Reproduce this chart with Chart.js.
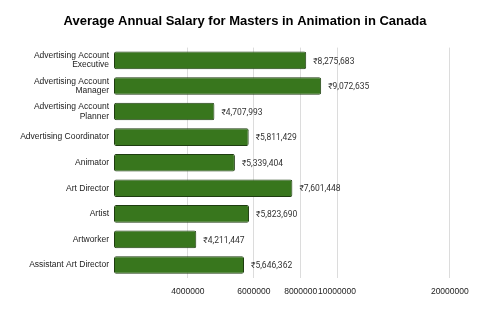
<!DOCTYPE html>
<html>
<head>
<meta charset="utf-8">
<script src="https://cdn.jsdelivr.net/npm/chart.js@4/dist/chart.umd.min.js"></script>
<style>
  html, body { margin: 0; padding: 0; background: #fff; }
  #wrap { width: 502px; height: 311px; }
</style>
</head>
<body>
<div id="wrap"><canvas id="salary"></canvas></div>
<script>
var jobs = [
  ['Advertising Account', 'Executive'],
  ['Advertising Account', 'Manager'],
  ['Advertising Account', 'Planner'],
  'Advertising Coordinator',
  'Animator',
  'Art Director',
  'Artist',
  'Artworker',
  'Assistant Art Director'
];
var salaries = [8275683, 9072635, 4707993, 5811429, 5339404, 7601448, 5823690, 4211447, 5646362];
var xTicks = [4000000, 6000000, 8000000, 10000000, 20000000];

Chart.defaults.font.family = 'Liberation Sans, Arial, sans-serif';

// writes the rupee value just past the end of each bar
var valueLabels = {
  id: 'valueLabels',
  afterDatasetsDraw: function (chart) {
    var c = chart.ctx;
    var meta = chart.getDatasetMeta(0);
    c.save();
    c.font = '8.5px Roboto, Liberation Sans, sans-serif';
    c.fillStyle = '#333';
    c.textBaseline = 'middle';
    meta.data.forEach(function (bar, i) {
      c.fillText('₹' + salaries[i].toLocaleString('en-US'), bar.x + 7, bar.y + 1);
    });
    c.restore();
  }
};

var ctx = document.getElementById('salary');
var myChart = new Chart(ctx, {
  type: 'bar',
  data: {
    labels: jobs,
    datasets: [{
      label: 'Salary',
      data: salaries,
      backgroundColor: '#38761d',
      borderColor: '#1e3d10',
      borderWidth: 1,
      borderSkipped: false,
      borderRadius: 2,
      categoryPercentage: 0.69,
      barPercentage: 1
    }]
  },
  options: {
    indexAxis: 'y',
    responsive: true,
    maintainAspectRatio: false,
    animation: false,
    layout: { padding: { left: 0, right: 12, top: 0, bottom: 5 } },
    plugins: {
      legend: { display: false },
      tooltip: { enabled: false },
      title: {
        display: true,
        text: 'Average Annual Salary for Masters in Animation in Canada',
        color: '#000',
        font: { size: 13, weight: 'bold' },
        padding: { top: 14, bottom: 18 }
      }
    },
    scales: {
      x: {
        type: 'logarithmic',
        min: 2540000,
        max: 25600000,
        afterBuildTicks: function (axis) {
          axis.ticks = xTicks.map(function (v) { return { value: v }; });
        },
        ticks: {
          color: '#222',
          font: { size: 8.5 },
          autoSkip: false,
          maxRotation: 0,
          padding: 9,
          callback: function (v) { return String(v); }
        },
        grid: { color: '#dcdcdc', drawTicks: false },
        border: { display: false }
      },
      y: {
        afterFit: function (axis) { axis.width = 114; },
        ticks: { color: '#222', font: { size: 8.5, lineHeight: 1.1 }, padding: 5, autoSkip: false },
        grid: { display: false, drawTicks: false },
        border: { display: false }
      }
    }
  },
  plugins: [valueLabels]
});
</script>
</body>
</html>
